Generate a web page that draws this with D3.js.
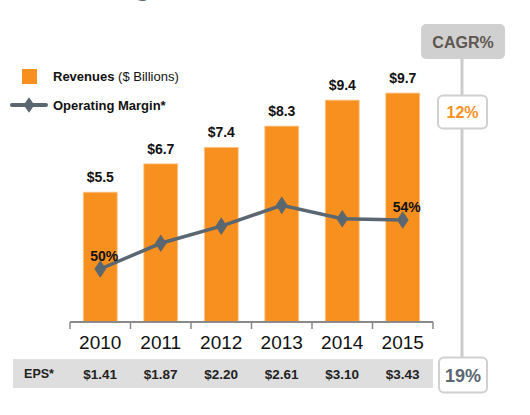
<!DOCTYPE html>
<html><head><meta charset="utf-8">
<script src="https://cdn.jsdelivr.net/npm/d3@7"></script>
<style>
html,body{margin:0;padding:0;background:#fff;}
svg{display:block;font-family:"Liberation Sans",Arial,sans-serif;}
</style></head>
<body><svg id="c" width="530" height="415"></svg>
<script>
const years = ["2010","2011","2012","2013","2014","2015"];
const revenues = [5.5, 6.7, 7.4, 8.3, 9.4, 9.7];
const revenueLabels = ["$5.5","$6.7","$7.4","$8.3","$9.4","$9.7"];
const margins = [50, 52.1, 53.5, 55.2, 54.1, 54.0];
const marginLabels = {0:"50%", 5:"54%"};
const eps = ["$1.41","$1.87","$2.20","$2.61","$3.10","$3.43"];
const cagrRevenue = "12%";
const cagrEps = "19%";

const ORANGE = "#f7901e", LINE = "#5a6670";
const svg = d3.select("#c");

// partial title (cropped at the top in the reference)
svg.append("text").attr("x",133).attr("y",-6).attr("font-size",34).attr("fill",LINE)
  .attr("font-family","Liberation Sans").text("g");

const x = d3.scaleBand().domain(years).range([70, 433]).paddingInner(0.44).paddingOuter(0.22);
const y = d3.scaleLinear().domain([0, 10]).range([322, 86]);
const ym = d3.scaleLinear().domain([40, 60]).range([391.5, 146.5]);

// bars
svg.selectAll("rect.bar").data(revenues).join("rect").attr("class","bar")
  .attr("x",(d,i)=>x(years[i])).attr("width",x.bandwidth())
  .attr("y",d=>y(d)).attr("height",d=>y(0)-y(d))
  .attr("fill",ORANGE).attr("stroke","#fbc48a").attr("stroke-width",0.8);

svg.selectAll("text.bl").data(revenues).join("text").attr("class","bl")
  .attr("x",(d,i)=>x(years[i])+x.bandwidth()/2).attr("y",d=>y(d)-10)
  .attr("text-anchor","middle").attr("font-size",14).attr("font-weight","bold").attr("fill","#111")
  .text((d,i)=>revenueLabels[i]);

// axis
const axisG = svg.append("g").attr("transform","translate(0,322)");
const xa = d3.scaleLinear().domain([0,6]).range([70,433]);
axisG.append("line").attr("x1",70).attr("x2",433).attr("stroke","#8a8a8a").attr("stroke-width",2);
axisG.selectAll("line.t").data(d3.range(7)).join("line").attr("class","t")
  .attr("x1",d=>xa(d)).attr("x2",d=>xa(d)).attr("y1",0).attr("y2",7)
  .attr("stroke","#8a8a8a").attr("stroke-width",1.5);
svg.selectAll("text.yr").data(years).join("text").attr("class","yr")
  .attr("x",d=>x(d)+x.bandwidth()/2).attr("y",349).attr("text-anchor","middle")
  .attr("font-size",19).attr("fill","#111").text(d=>d);

// margin line
const cx = i => x(years[i])+x.bandwidth()/2;
svg.append("path").datum(margins)
  .attr("d", d3.line().x((d,i)=>cx(i)).y(d=>ym(d)))
  .attr("fill","none").attr("stroke",LINE).attr("stroke-width",3.5);
svg.selectAll("path.mk").data(margins).join("path").attr("class","mk")
  .attr("d", d3.symbol().type(d3.symbolDiamond).size(90))
  .attr("transform",(d,i)=>`translate(${cx(i)},${ym(d)}) scale(1.15,1)`)
  .attr("fill",LINE);
Object.entries(marginLabels).forEach(([i,t])=>{
  i=+i;
  svg.append("text").attr("x",cx(i)+4).attr("y",ym(margins[i])-8)
    .attr("text-anchor","middle").attr("font-size",14).attr("font-weight",600).attr("fill","#111").text(t);
});

// legend
svg.append("rect").attr("x",22).attr("y",69).attr("width",15).attr("height",15).attr("fill",ORANGE);
const lt = svg.append("text").attr("x",53).attr("y",81).attr("font-size",13).attr("fill","#111");
lt.append("tspan").attr("font-weight","bold").text("Revenues ");
lt.append("tspan").text("($ Billions)");
svg.append("line").attr("x1",12).attr("x2",46).attr("y1",105).attr("y2",105).attr("stroke",LINE).attr("stroke-width",4).attr("stroke-linecap","round");
svg.append("path").attr("d",d3.symbol().type(d3.symbolDiamond).size(70)).attr("transform","translate(29,105) scale(1.2,1)").attr("fill",LINE);
svg.append("text").attr("x",53).attr("y",109.5).attr("font-size",13).attr("font-weight","bold").attr("fill","#111").text("Operating Margin*");

// EPS row
svg.append("rect").attr("x",13).attr("y",359).attr("width",420).attr("height",29).attr("fill","#dedede");
svg.append("text").attr("x",39).attr("y",378).attr("text-anchor","middle").attr("font-size",12.5).attr("font-weight","bold").attr("fill","#222").text("EPS*");
svg.selectAll("text.eps").data(eps).join("text").attr("class","eps")
  .attr("x",(d,i)=>cx(i)).attr("y",378.5).attr("text-anchor","middle")
  .attr("font-size",13.5).attr("font-weight","bold").attr("fill","#222").text(d=>d);

// CAGR column
svg.append("line").attr("x1",462).attr("x2",462).attr("y1",58).attr("y2",358).attr("stroke","#cccccc").attr("stroke-width",3);
svg.append("rect").attr("x",421).attr("y",24).attr("width",84).attr("height",35).attr("rx",5).attr("fill","#d0d0d0");
svg.append("text").attr("x",463).attr("y",47.5).attr("text-anchor","middle").attr("font-size",16).attr("font-weight","bold").attr("fill","#5e5650").text("CAGR%");
svg.append("rect").attr("x",438).attr("y",95.5).attr("width",49).attr("height",33).attr("rx",5).attr("fill","#fff").attr("stroke","#d0d0d0").attr("stroke-width",2);
svg.append("text").attr("x",462.5).attr("y",118).attr("text-anchor","middle").attr("font-size",16).attr("fill",ORANGE).attr("font-weight",600).text(cagrRevenue);
svg.append("rect").attr("x",439).attr("y",357.5).attr("width",48).attr("height",35).attr("rx",5).attr("fill","#fff").attr("stroke","#d0d0d0").attr("stroke-width",2);
svg.append("text").attr("x",463).attr("y",382).attr("text-anchor","middle").attr("font-size",18).attr("fill",LINE).attr("font-weight",600).text(cagrEps);
</script></body></html>
